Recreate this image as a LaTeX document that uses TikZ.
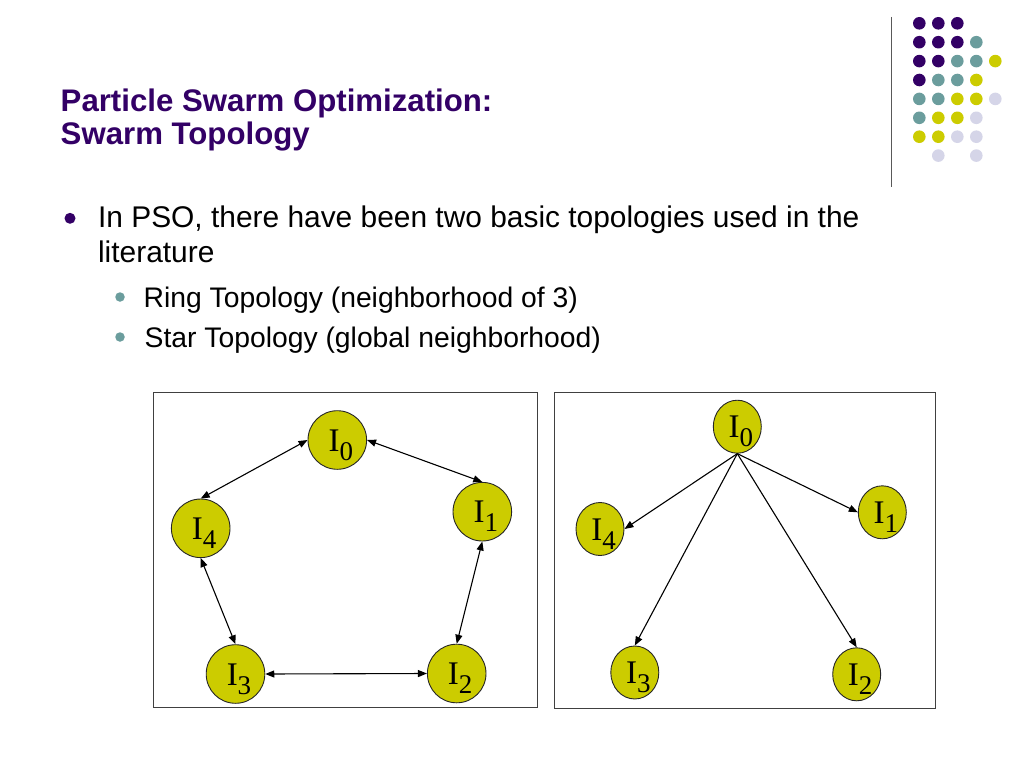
\documentclass[tikz,border=0pt]{standalone}
\usepackage{fontspec}
\setmainfont{Liberation Sans}
\newfontfamily\tmsfont{Liberation Serif}
\usetikzlibrary{arrows.meta,shapes.geometric}
\definecolor{dkpurple}{HTML}{330066}
\definecolor{dteal}{HTML}{6B9D9D}
\definecolor{dyellow}{HTML}{CCCC00}
\definecolor{dlav}{HTML}{D5D5E8}
\newcommand{\isub}[1]{\makebox[0pt]{\smash{\raisebox{-11pt}{\hspace*{7pt}\tmsfont\fontsize{33}{33}\selectfont I\raisebox{-9pt}{\fontsize{27}{27}\selectfont #1}}}}}
\begin{document}
\begin{tikzpicture}[x=1pt,y=-1pt,
  dot/.style={circle,inner sep=0pt,minimum size=12.6pt,draw=none},
  bullet/.style={circle,inner sep=0pt,draw=none},
  titletext/.style={anchor=base west,inner sep=0pt,text=dkpurple,font=\bfseries\fontsize{31.2}{31.2}\selectfont},
  bodytext/.style={anchor=base west,inner sep=0pt,text=black,font=\fontsize{29.9}{29.9}\selectfont},
  subtext/.style={anchor=base west,inner sep=0pt,text=black,font=\fontsize{28.3}{28.3}\selectfont},
  frame/.style={draw=black!75,line width=1pt},
  lnode/.style={circle,draw=black!85,fill=dyellow,line width=0.9pt,minimum size=58.6pt,inner sep=0pt},
  rnode/.style={ellipse,draw=black!85,fill=dyellow,line width=0.9pt,minimum width=48pt,minimum height=53pt,inner sep=0pt},
  dbl/.style={{Stealth[length=9pt,width=7pt,inset=0pt]}-{Stealth[length=9pt,width=7pt,inset=0pt]},line width=1.1pt},
  sarr/.style={-{Stealth[length=9pt,width=7pt,inset=0pt]},line width=1.1pt}]
\fill[white] (0,0) rectangle (1024,768);
\useasboundingbox (0,0) rectangle (1024,768);

% decorative dots
\foreach \c/\r/\col in {0/0/dkpurple,1/0/dkpurple,2/0/dkpurple,
  0/1/dkpurple,1/1/dkpurple,2/1/dkpurple,3/1/dteal,
  0/2/dkpurple,1/2/dkpurple,2/2/dteal,3/2/dteal,4/2/dyellow,
  0/3/dkpurple,1/3/dteal,2/3/dteal,3/3/dyellow,
  0/4/dteal,1/4/dteal,2/4/dyellow,3/4/dyellow,4/4/dlav,
  0/5/dteal,1/5/dyellow,2/5/dyellow,3/5/dlav,
  0/6/dyellow,1/6/dyellow,2/6/dlav,3/6/dlav,
  1/7/dlav,3/7/dlav}
  \node[dot,fill=\col] (d\c\r) at ({919.3+19*\c},{23.3+18.9*\r}) {};
\draw[black!65,line width=1.3pt] (891.7,17) -- (891.7,187);

% title
\node[titletext] (t1) at (60.5,111) {Particle Swarm Optimization:};
\node[titletext] (t2) at (60.5,144.5) {Swarm Topology};

% bullets
\node[bullet,fill=dkpurple,minimum size=11pt] (bu0) at (70,218.3) {};
\node[bodytext] (b1) at (97.9,227) {In PSO, there have been two basic topologies used in the};
\node[bodytext] (b2) at (97.9,262) {literature};
\node[bullet,fill=dteal,minimum size=9.5pt] (bu1) at (120,297) {};
\node[subtext] (s1) at (143.5,307) {Ring Topology (neighborhood of 3)};
\node[bullet,fill=dteal,minimum size=9.5pt] (bu2) at (120,337) {};
\node[subtext] (s2) at (144.5,347) {Star Topology (global neighborhood)};

% frames
\draw[frame] (153.3,392.3) rectangle (537.7,707.7);
\draw[frame] (554,392.3) rectangle (935.7,708.3);

% ring topology
\node[lnode] (L0) at (337.3,440) {\isub{0}};
\node[lnode] (L1) at (482.3,511.7) {\isub{1}};
\node[lnode] (L2) at (456.7,673.5) {\isub{2}};
\node[lnode] (L3) at (235.5,674) {\isub{3}};
\node[lnode] (L4) at (200.7,528.3) {\isub{4}};
\draw[dbl] (L0.east) -- (L1.north);
\draw[dbl] (L0.west) -- (L4.north);
\draw[dbl] (L4.south) -- (L3.north);
\draw[dbl] (L3.east) -- (L2.west);
\draw[dbl] (L1.south) -- (L2.north);

% star topology
\node[rnode] (R0) at (737.3,426.7) {\isub{0}};
\node[rnode] (R1) at (882.3,512.3) {\isub{1}};
\node[rnode] (R2) at (856.7,674.3) {\isub{2}};
\node[rnode] (R3) at (634.8,672.5) {\isub{3}};
\node[rnode] (R4) at (600,529) {\isub{4}};
\draw[sarr] (R0.south) -- (R4.east);
\draw[sarr] (R0.south) -- (R1.west);
\draw[sarr] (R0.south) -- (R3.north);
\draw[sarr] (R0.south) -- (R2.north);
\end{tikzpicture}
\end{document}
